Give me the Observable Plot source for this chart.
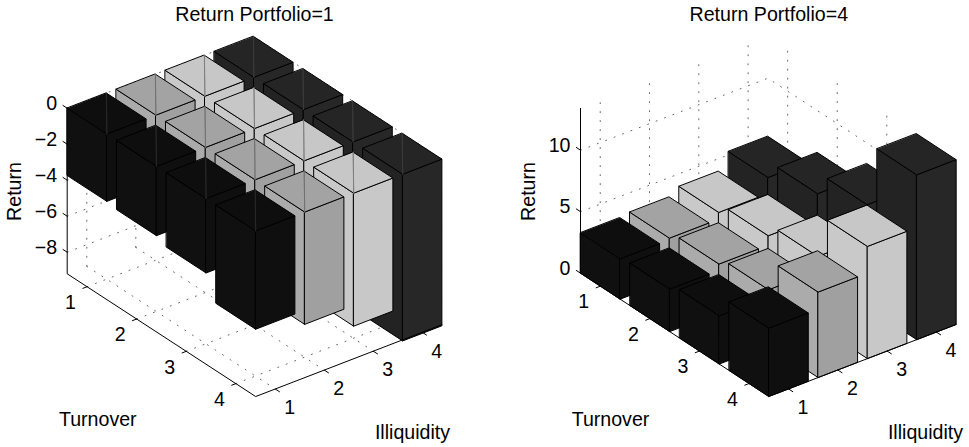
<!DOCTYPE html>
<html><head><meta charset="utf-8">
<style>html,body{margin:0;padding:0;background:#fff}</style>
<script src="https://cdn.jsdelivr.net/npm/d3@7"></script>
<script src="https://cdn.jsdelivr.net/npm/@observablehq/plot@0.6"></script>
</head><body>
<script>
const turnover = [1, 2, 3, 4];
const illiquidity = [1, 2, 3, 4];
// returns[illiquidity index][turnover index]; rear bars hidden in the picture are estimates
const returnsP1 = [
  [-3.74, -3.85, -4.13, -5.46],
  [-2.9, -3.2, -3.6, -6.24],
  [-2.8, -3.2, -3.8, -7.39],
  [-3.0, -3.5, -4.2, -9.26]
];
const returnsP4 = [
  [3.28, 3.45, 3.92, 5.56],
  [3.42, 3.95, 4.5, 6.95],
  [3.97, 4.71, 5.67, 9.12],
  [5.27, 6.59, 8.33, 13.4]
];
const seriesColors = [
  {left: "#101010", right: "#0f0f0f", top: "#0e0e0e", edge: "#2a2a2a"},
  {left: "#ababab", right: "#a0a0a0", top: "#a3a3a3", edge: "#6e6e6e"},
  {left: "#c9c9c9", right: "#c8c8c8", top: "#c7c7c7", edge: "#7a7a7a"},
  {left: "#232323", right: "#272727", top: "#252525", edge: "#3c3c3c"}
];
const zTicksP1 = [0, -2, -4, -6, -8];
const zTicksP4 = [0, 5, 10];

const panels = [
  {title: "Return Portfolio=1", values: returnsP1, zTicks: zTicksP1, zMin: -9.2, zMax: 0,
   ox: 66.7, oy: 273.3, tx: 49.6, ty: 32.3, ix: 49.0, iy: -18.9, zs: 18,
   titleX: 254, zLabelX: 14, tickRight: 56.7, turnX: 97.3, illX: 412, inner: true},
  {title: "Return Portfolio=4", values: returnsP4, zTicks: zTicksP4, zMin: 0, zMax: 13.4,
   ox: 580, oy: 272.7, tx: 49.56, ty: 32.45, ix: 49.3, iy: -18.95, zs: 12.3,
   titleX: 768.3, zLabelX: 528, tickRight: 570, turnX: 610, illX: 925, inner: false}
];

const lo = 0.6, hi = 4.4, half = 0.4;
const project = (p, t, i, z) => ({
  px: p.ox + (t - lo) * p.tx + (i - lo) * p.ix,
  py: p.oy + (t - lo) * p.ty + (i - lo) * p.iy - (z - p.zMin) * p.zs
});

const faces = [], grid = [], axes = [], labels = [];
let id = 0;
const poly = (arr, p, pts, fill, stroke, sw) => {
  const k = id++;
  for (const [t, i, z] of pts) arr.push({...project(p, t, i, z), k, fill, stroke, sw});
};
for (const p of panels) {
  const {zMin, zMax} = p;
  // dotted grid: floor and the two rear walls
  for (const t of turnover) {
    poly(grid, p, [[t, lo, zMin], [t, hi, zMin]]);
    poly(grid, p, [[t, hi, zMin], [t, hi, zMax]]);
  }
  for (const i of illiquidity) {
    poly(grid, p, [[lo, i, zMin], [hi, i, zMin]]);
    poly(grid, p, [[lo, i, zMin], [lo, i, zMax]]);
  }
  for (const z of p.zTicks) {
    poly(grid, p, [[lo, lo, z], [lo, hi, z], [hi, hi, z]]);
  }
  // bars, painted back to front
  for (const [tIdx, t] of turnover.entries()) {
    for (let iIdx = illiquidity.length - 1; iIdx >= 0; iIdx--) {
      const i = illiquidity[iIdx], v = p.values[iIdx][tIdx], c = seriesColors[iIdx];
      const z0 = Math.min(v, 0), z1 = Math.max(v, 0);
      const t0 = t - half, t1 = t + half, i0 = i - half, i1 = i + half;
      poly(faces, p, [[t0, i0, z0], [t1, i0, z0], [t1, i0, z1], [t0, i0, z1]], c.left, "#000", 1);
      poly(faces, p, [[t1, i0, z0], [t1, i1, z0], [t1, i1, z1], [t1, i0, z1]], c.right, "#000", 1);
      poly(faces, p, [[t0, i0, z1], [t1, i0, z1], [t1, i1, z1], [t0, i1, z1]], c.top, "#000", 1);
      if (p.inner) poly(faces, p, [[t0, i1, z1], [t1, i0, z1]], "none", c.edge, 0.8);
    }
  }
  // axis lines and ticks
  poly(axes, p, [[lo, lo, zMax], [lo, lo, zMin], [hi, lo, zMin], [hi, hi, zMin]]);
  for (const t of turnover) poly(axes, p, [[t, lo, zMin], [t, lo - 0.085, zMin]]);
  for (const i of illiquidity) poly(axes, p, [[hi, i, zMin], [hi + 0.085, i, zMin]]);
  for (const z of p.zTicks) poly(axes, p, [[lo, lo, z], [lo - 0.085, lo, z]]);
  // texts
  const txt = (x, y, text, o = {}) => labels.push({px: x, py: y, text, anchor: "middle", rotate: 0, ...o});
  txt(p.titleX, 14.5, p.title);
  txt(p.zLabelX, 191, "Return", {rotate: -90});
  txt(p.turnX, 419, "Turnover");
  txt(p.illX, 432, "Illiquidity");
  for (const z of p.zTicks) {
    const q = project(p, lo, lo, z);
    txt(p.tickRight, q.py - 4.5, z < 0 ? "\u2212" + (-z) : String(z), {anchor: "end"});
  }
  for (const t of turnover) {
    const q = project(p, t, lo, zMin);
    txt(q.px - 16.5, q.py + 16, String(t));
  }
  for (const i of illiquidity) {
    const q = project(p, hi, i, zMin);
    txt(q.px + 14.5, q.py + 19, String(i));
  }
}

const textMark = (anchor, rotate) => Plot.text(labels.filter(d => d.anchor === anchor && d.rotate === rotate), {
  x: "px", y: "py", text: "text", textAnchor: anchor, rotate,
  fontFamily: "Liberation Sans, Arial, Helvetica, sans-serif", fontSize: 19.6, fill: "#000", lineAnchor: "middle"
});

const chart = Plot.plot({
  width: 969, height: 447, margin: 0, style: {background: "#fff"},
  x: {domain: [0, 969], range: [0, 969], axis: null},
  y: {domain: [0, 447], range: [0, 447], axis: null},
  marks: [
    Plot.line(grid, {x: "px", y: "py", z: "k", stroke: "#666", strokeWidth: 1, strokeDasharray: "1 8"}),
    Plot.line(faces, {
      x: "px", y: "py", z: "k", curve: "linear-closed",
      fill: {value: d => d.fill, scale: null},
      stroke: {value: d => d.stroke, scale: null},
      strokeWidth: "sw", strokeLinejoin: "miter"
    }),
    Plot.line(axes, {x: "px", y: "py", z: "k", stroke: "#000", strokeWidth: 1}),
    textMark("middle", 0), textMark("middle", -90), textMark("end", 0)
  ]
});
document.body.appendChild(chart);
</script>
</body></html>
